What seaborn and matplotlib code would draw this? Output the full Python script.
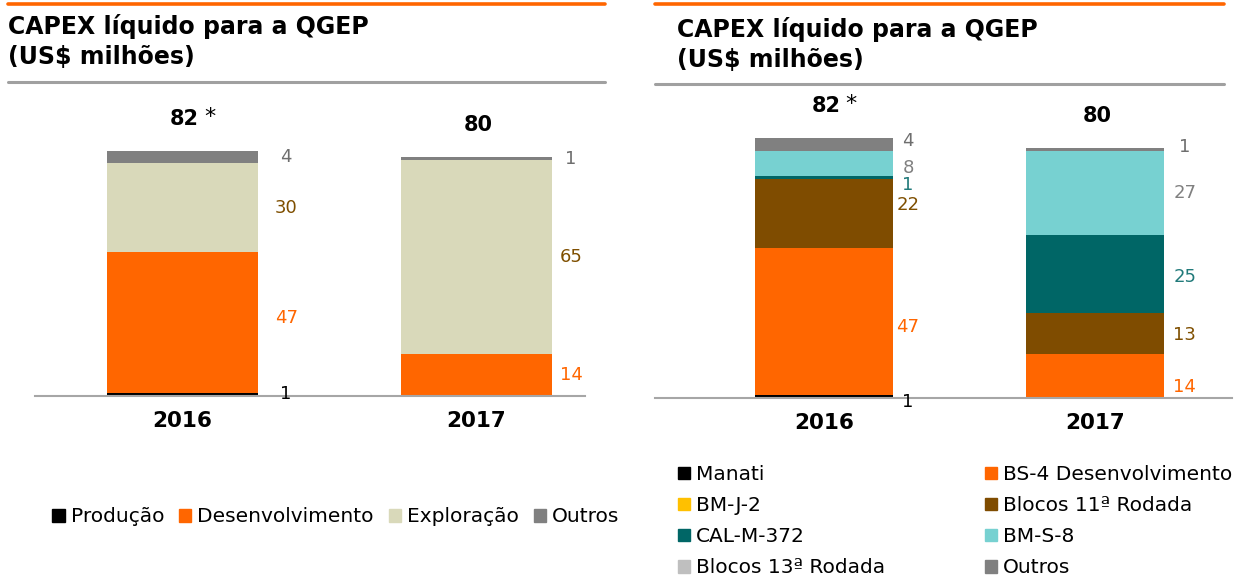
import matplotlib
matplotlib.use("Agg")
import matplotlib.pyplot as plt
from matplotlib.lines import Line2D
from matplotlib.patches import Patch
import numpy as np
import seaborn as sns

W, H = 1252, 581

YEARS = ["2016", "2017"]
TOTALS = ["82", "80"]
FOOTNOTE = ["*", ""]
TITLE = "CAPEX líquido para a QGEP\n(US$ milhões)"

# left panel: net capex by phase (bottom -> top)
PHASE_NAMES = ["Produção", "Desenvolvimento", "Exploração", "Outros"]
PRODUCAO = [1, 0]
DESENVOLVIMENTO = [47, 14]
EXPLORACAO = [30, 65]
OUTROS_FASE = [4, 1]

# right panel: net capex by asset (bottom -> top)
ASSET_NAMES = ["Manati", "BS-4 Desenvolvimento", "BM-J-2", "Blocos 11ª Rodada",
               "CAL-M-372", "Blocos 13ª Rodada", "BM-S-8", "Outros"]
MANATI = [1, 0]
BS4 = [47, 14]
BMJ2 = [0, 0]
BLOCOS_11 = [22, 13]
CAL_M_372 = [1, 25]
BLOCOS_13 = [0, 0]
BMS8 = [8, 27]
OUTROS_ATIVO = [4, 1]
# legend order (two columns, filled column-wise)
ASSET_LEGEND = ["Manati", "BM-J-2", "CAL-M-372", "Blocos 13ª Rodada",
                "BS-4 Desenvolvimento", "Blocos 11ª Rodada", "BM-S-8", "Outros"]

ORANGE = "#FF6600"
BROWN = "#7F4C00"
PHASE_COLORS = {"Produção": "#000000", "Desenvolvimento": ORANGE,
                "Exploração": "#D9D9BA", "Outros": "#808080"}
PHASE_TEXT = {"Produção": "#000000", "Desenvolvimento": ORANGE,
              "Exploração": "#7F4F00", "Outros": "#6E6E6E"}
ASSET_COLORS = {"Manati": "#000000", "BS-4 Desenvolvimento": ORANGE, "BM-J-2": "#FFC000",
                "Blocos 11ª Rodada": BROWN, "CAL-M-372": "#006666",
                "Blocos 13ª Rodada": "#BFBFBF", "BM-S-8": "#77D1D1", "Outros": "#808080"}
ASSET_TEXT = {"Manati": "#000000", "BS-4 Desenvolvimento": ORANGE, "BM-J-2": "#FFC000",
              "Blocos 11ª Rodada": "#7F4F00", "CAL-M-372": "#217A7A",
              "Blocos 13ª Rodada": "#999999", "BM-S-8": "#808080", "Outros": "#6E6E6E"}

# label nudges in pixels (up is positive)
LEFT_NUDGE = {("Desenvolvimento", 0): 4}
RIGHT_NUDGE = {("Outros", 0): 3, ("BM-S-8", 0): -5, ("CAL-M-372", 0): -8,
               ("Blocos 11ª Rodada", 0): 8, ("BS-4 Desenvolvimento", 0): -6,
               ("Manati", 0): -6, ("BS-4 Desenvolvimento", 1): -11,
               ("Blocos 11ª Rodada", 1): -1, ("CAL-M-372", 1): -3, ("Outros", 1): 2}

PT = 0.72  # points per pixel at dpi 100


def fig_box(x0, y_base, x1, px_per_unit, units=100):
    height = px_per_unit * units
    return [x0 / W, 1 - y_base / H, (x1 - x0) / W, height / H]


def draw_panel(ax, names, values, colors, text_colors, width, label_dx, nudges, xlim):
    stacks = np.cumsum(np.array(values, dtype=float), axis=0)
    for k in reversed(range(len(names))):
        sns.barplot(x=YEARS, y=stacks[k], color=colors[names[k]], width=width,
                    saturation=1, linewidth=0, ax=ax)
    for k, name in enumerate(names):
        for i in range(len(YEARS)):
            v = values[k][i]
            if v == 0:
                continue
            mid = stacks[k][i] - v / 2
            ax.annotate(str(v), xy=(i + width / 2, mid),
                        xytext=(label_dx[i] * PT, nudges.get((name, i), 0) * PT),
                        textcoords="offset points", ha="center", va="center",
                        color=text_colors[name], fontsize=13)
    for i in range(len(YEARS)):
        top = stacks[-1][i]
        ax.annotate(TOTALS[i], xy=(i, top), xytext=(2 * PT, 32 * PT),
                    textcoords="offset points", ha="center", va="center",
                    fontsize=15, fontweight="bold")
        if FOOTNOTE[i]:
            ax.annotate(FOOTNOTE[i], xy=(i, top), xytext=(27 * PT, 34 * PT),
                        textcoords="offset points", ha="center", va="center",
                        fontsize=16)

    ax.set_ylim(0, 100)
    ax.set_xlim(*xlim)
    ax.set_xticks([0, 1])
    ax.set_xticklabels(YEARS, fontweight="bold", fontsize=15.5)
    ax.tick_params(axis="x", length=0, pad=11, colors="black")
    ax.set_yticks([])
    ax.set_xlabel("")
    ax.set_ylabel("")
    for side in ["top", "left", "right"]:
        ax.spines[side].set_visible(False)
    ax.spines["bottom"].set_color("#A6A6A6")
    ax.spines["bottom"].set_linewidth(1.5)
    ax.patch.set_alpha(0)


def header(fig, x0, x1, x_text, y_orange, y_gray, y_text):
    fig.add_artist(Line2D([x0 / W, x1 / W], [1 - y_orange / H] * 2, color=ORANGE, lw=2.6))
    fig.add_artist(Line2D([x0 / W, x1 / W], [1 - y_gray / H] * 2, color="#A0A0A0", lw=2.2))
    fig.text(x_text / W, 1 - y_text / H, TITLE, ha="left", va="top",
             fontsize=17, fontweight="bold", linespacing=1.3)


def main():
    sns.set_theme(style="white")
    plt.rcParams["font.family"] = ["DejaVu Sans"]
    plt.rcParams["text.color"] = "black"
    plt.rcParams["xtick.color"] = "black"
    fig = plt.figure(figsize=(W / 100, H / 100), dpi=100)

    # left panel
    header(fig, 8, 605, 8, 4, 82, 14)
    ax1 = fig.add_axes(fig_box(35, 395.5, 585, 2.98))
    draw_panel(ax1, PHASE_NAMES, [PRODUCAO, DESENVOLVIMENTO, EXPLORACAO, OUTROS_FASE],
               PHASE_COLORS, PHASE_TEXT, 0.514, [28, 19], LEFT_NUDGE, (-0.502, 1.369))
    handles = [Patch(color=PHASE_COLORS[n]) for n in PHASE_NAMES]
    fig.legend(handles, PHASE_NAMES, loc="center", bbox_to_anchor=(336 / W, 1 - 517 / H),
               ncol=4, frameon=False, fontsize=14.5, handlelength=0.6, handleheight=0.6,
               handletextpad=0.3, columnspacing=0.75, borderpad=0, borderaxespad=0)

    # right panel
    header(fig, 655, 1224, 677, 4, 84, 17)
    ax2 = fig.add_axes(fig_box(655, 398, 1232, 3.13))
    draw_panel(ax2, ASSET_NAMES, [MANATI, BS4, BMJ2, BLOCOS_11, CAL_M_372, BLOCOS_13, BMS8, OUTROS_ATIVO],
               ASSET_COLORS, ASSET_TEXT, 0.509, [15, 21], RIGHT_NUDGE, (-0.624, 1.506))
    handles = [Patch(color=ASSET_COLORS[n]) for n in ASSET_LEGEND]
    fig.legend(handles, ASSET_LEGEND, loc="upper left", bbox_to_anchor=(678 / W, 1 - 465 / H),
               ncol=2, frameon=False, fontsize=14.5, handlelength=0.6, handleheight=0.6,
               handletextpad=0.3, columnspacing=4.95, labelspacing=0.6,
               borderpad=0, borderaxespad=0)

    fig.savefig("out.png", dpi=100)
    plt.close(fig)


if __name__ == "__main__":
    main()
